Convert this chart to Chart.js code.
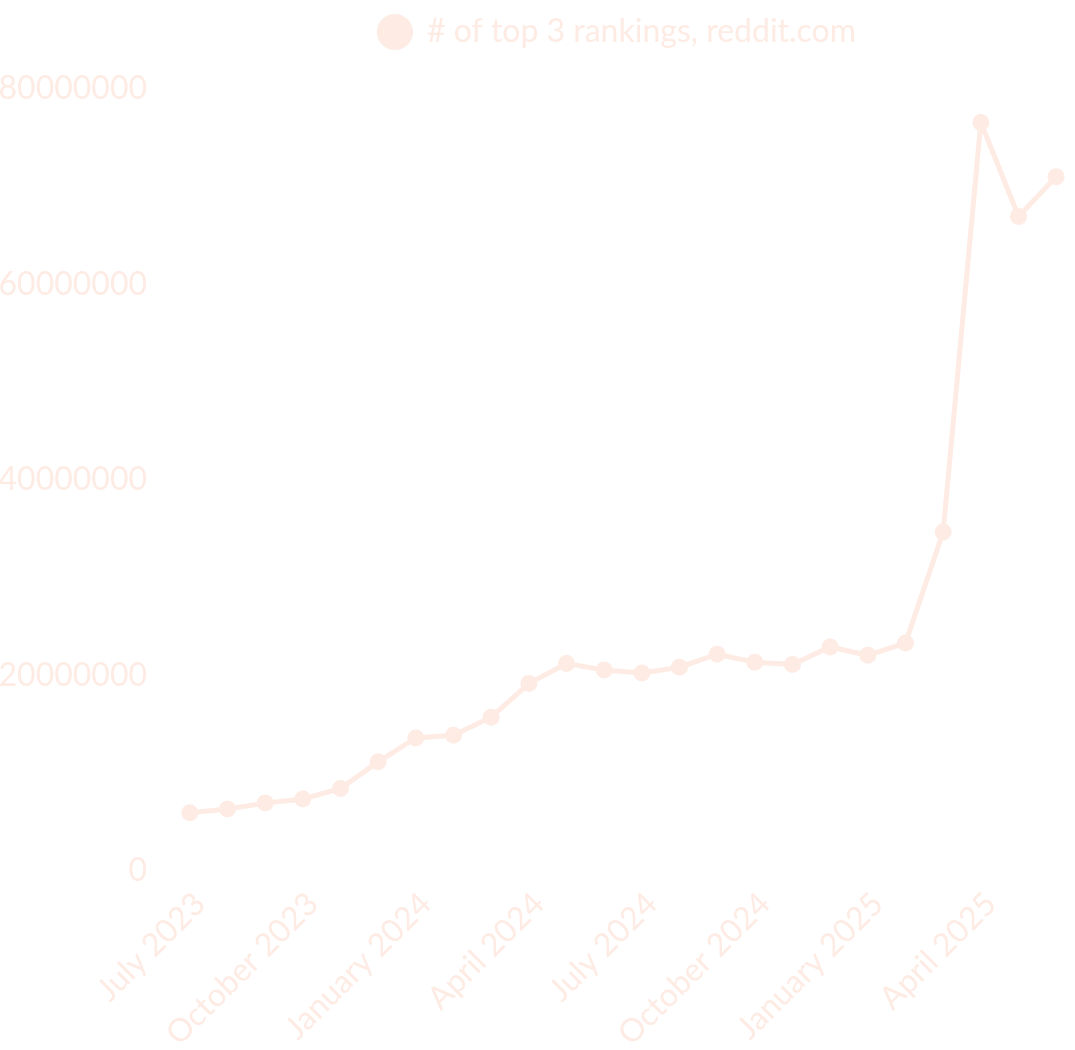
<!DOCTYPE html>
<html>
<head>
<meta charset="utf-8">
<script src="https://cdn.jsdelivr.net/npm/chart.js@4"></script>
<style>
  html, body { margin: 0; padding: 0; background: #ffffff; overflow: hidden; }
  #wrap { width: 1075px; height: 1050px; }
</style>
</head>
<body>
<div id="wrap"><canvas id="myChart"></canvas></div>
<script>
const months = [
  "July 2023", "August 2023", "September 2023", "October 2023", "November 2023", "December 2023",
  "January 2024", "February 2024", "March 2024", "April 2024", "May 2024", "June 2024",
  "July 2024", "August 2024", "September 2024", "October 2024", "November 2024", "December 2024",
  "January 2025", "February 2025", "March 2025", "April 2025", "May 2025", "June 2025"
];
const rankings = [
  5960000, 6340000, 6950000, 7360000, 8450000, 11170000,
  13620000, 13900000, 15740000, 19180000, 21230000, 20570000,
  20270000, 20850000, 22180000, 21360000, 21120000, 22920000,
  22070000, 23330000, 34680000, 76580000, 66970000, 71030000
];
const yTicks = [0, 20000000, 40000000, 60000000, 80000000];

const peach = "rgb(253, 235, 228)";
Chart.defaults.font.family = "Lato";
Chart.defaults.font.size = 32;
Chart.defaults.color = peach;

// a bit more room under the legend
const legendGap = {
  id: "legendGap",
  beforeInit(chart) {
    const fit = chart.legend.fit;
    chart.legend.fit = function () {
      fit.bind(chart.legend)();
      this.height += 31;
    };
  },
};

// let the x axis run to the right edge (no padding for the rotated last label)
const fillRight = {
  id: "fillRight",
  afterLayout(chart) {
    const x = chart.scales.x;
    chart.chartArea.right = chart.width;
    chart.chartArea.width = chart.chartArea.right - chart.chartArea.left;
    x.right = chart.width;
    x.width = x.right - x.left;
    x.configure();
  },
};

var ctx = document.getElementById("myChart").getContext("2d");
var myChart = new Chart(ctx, {
  type: "line",
  data: {
    labels: months,
    datasets: [
      {
        label: "# of top 3 rankings, reddit.com",
        data: rankings,
        borderColor: peach,
        backgroundColor: peach,
        borderWidth: 5,
        pointRadius: 6,
        pointBackgroundColor: peach,
        pointBorderColor: peach,
      },
    ],
  },
  options: {
    responsive: true,
    maintainAspectRatio: false,
    animation: false,
    plugins: {
      legend: {
        fullSize: false,
        labels: {
          usePointStyle: true,
          pointStyle: "circle",
          boxWidth: 32,
          boxHeight: 22,
          padding: 16,
        },
      },
    },
    scales: {
      x: {
        offset: true,
        grid: { display: false },
        border: { display: false },
        afterFit: (axis) => {
          axis.paddingRight = 0;
          axis.height -= 9;
        },
        ticks: {
          autoSkip: false,
          maxRotation: 45,
          minRotation: 45,
          labelOffset: 10,
          padding: 6,
          callback: function (val, i) {
            return i % 3 === 0 ? months[i] : "";
          },
        },
      },
      y: {
        min: yTicks[0],
        max: yTicks[yTicks.length - 1],
        grid: { display: false },
        border: { display: false },
        afterBuildTicks: (axis) => {
          axis.ticks = yTicks.map((v) => ({ value: v }));
        },
        afterFit: (axis) => {
          axis.width = 171;
        },
        ticks: {
          padding: 16,
          callback: (v) => String(v),
        },
      },
    },
  },
  plugins: [legendGap, fillRight],
});
</script>
</body>
</html>
